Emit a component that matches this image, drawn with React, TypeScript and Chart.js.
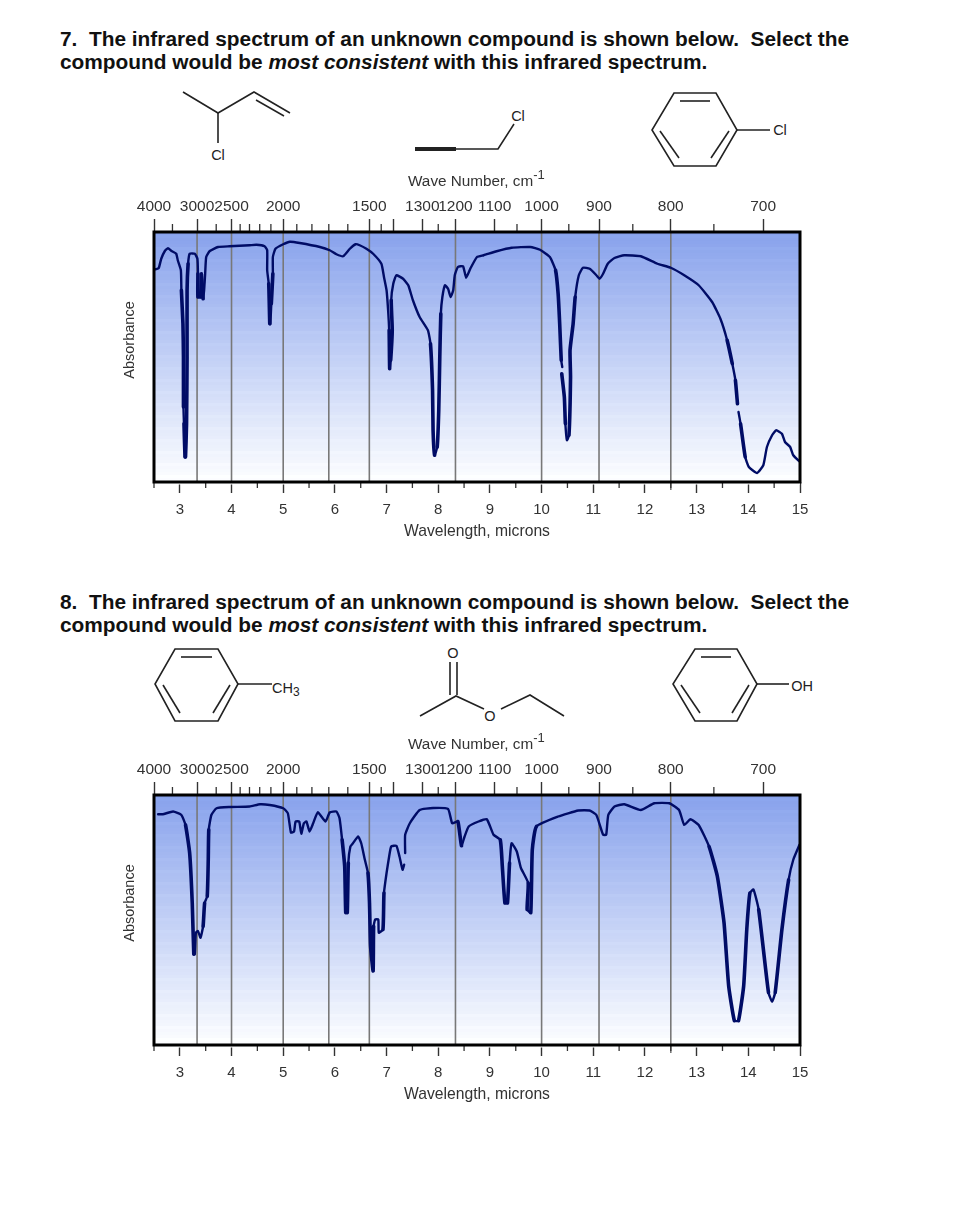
import React, { useEffect, useRef } from "react";
import { Chart, registerables } from "chart.js";

Chart.register(...registerables);

const FONT = '"Liberation Sans", Arial, sans-serif';

const wavelengthTicks = [3, 4, 5, 6, 7, 8, 9, 10, 11, 12, 13, 14, 15];
const wavelengthMinorTicks = [2.5, 3.5, 4.5, 5.5, 6.5, 7.5, 8.5, 9.5, 10.5, 11.5, 12.5, 13.5, 14.5];
const waveNumberTicks = [4000, 3000, 2500, 2000, 1500, 1400, 1300, 1200, 1100, 1000, 900, 800, 700];
const waveNumberHiddenLabels = [1400];
const waveNumberMinorTicks = [3500, 2700, 2400, 2300, 2200, 2100, 1900, 1800, 1700, 1600, 1450, 1250, 1050, 950, 850, 750];
const referenceWaveNumbers = [3000, 2500, 2000, 1700, 1500, 1200, 1000, 900, 800];

const wavelength7 = [
  2.53, 2.59, 2.64, 2.71, 2.77, 2.84, 2.93, 2.96, 3.02, 3.03, 3.06, 3.07, 3.07, 3.08, 3.1, 3.11, 3.13, 3.14, 3.14,
  3.16, 3.19, 3.29, 3.34, 3.35, 3.35, 3.4, 3.42, 3.45, 3.47, 3.49, 3.51, 3.58, 3.74, 3.96, 4.35, 4.48, 4.64, 4.69,
  4.69, 4.72, 4.74, 4.75, 4.77, 4.8, 4.8, 4.85, 5.0, 5.13, 5.32, 5.71, 5.9, 6.03, 6.16, 6.29, 6.4, 6.48, 6.61, 6.74,
  6.9, 6.95, 7.0, 7.03, 7.05, 7.06, 7.08, 7.11, 7.09, 7.13, 7.19, 7.32, 7.42, 7.51, 7.64, 7.8, 7.85, 7.89, 7.9, 7.93,
  7.98, 8.01, 8.03, 8.05, 8.08, 8.13, 8.19, 8.24, 8.29, 8.32, 8.38, 8.48, 8.54, 8.62, 8.75, 8.88, 9.13, 9.42, 9.78,
  9.97, 10.16, 10.27, 10.32, 10.35, 10.38, 10.4, 10.4, 10.39, 10.44, 10.46, 10.49, 10.53, 10.56, 10.55, 10.61, 10.65,
  10.72, 10.8, 10.93, 11.06, 11.12, 11.19, 11.28, 11.41, 11.6, 11.92, 12.24, 12.5, 12.76, 13.04, 13.3, 13.46, 13.59,
  13.69, 13.75, 13.79, 13.8, 13.81, 13.85, 13.94, 14.01, 14.17, 14.29, 14.36, 14.46, 14.54, 14.65, 14.71, 14.81,
  14.87, 15.0,
];
const absorbance7 = [
  14.9, 14.5, 10.7, 7.6, 6.5, 7.6, 8.7, 11.3, 15.3, 23.3, 36.7, 50, 70, 76.7, 90, 90, 76.7, 50, 23.3,
  12.7, 8.7, 8.7, 10.7, 16.7, 26, 26, 16.7, 26.7, 23.3, 16.7, 10, 7.6, 6, 5.7, 5.3, 5.1, 5.7, 7.3,
  15.3, 20.7, 36.7, 36.9, 28.7, 16.7, 10, 6.7, 4.9, 3.9, 4.4, 6, 7.3, 8.9, 9.7, 6.7, 4.9, 5.3, 6.7, 8.7,
  12.7, 18, 23.3, 31.3, 39.3, 54.7, 51.3, 39.3, 27.3, 20.7, 17.3, 18.7, 21.3, 27.3, 34, 39.3, 44.7, 63.3, 79.3, 89.3,
  86, 71.3, 50, 32.7, 26, 21.3, 22.7, 26, 23.3, 17.3, 14, 13.7, 18.3, 14.7, 10, 9.3, 7.7, 6.3, 6,
  7.1, 10, 15.3, 24.7, 36.7, 51.3, 54, null, 56.7, 66, 76.7, 83.3, 81.3, 58, 47.3, 36.7, 26,
  17.3, 14.3, 14.7, 17.3, 18.7, 16.7, 12.7, 10.4, 9.3, 9.7, 12.7, 14.3, 17.3, 21.3, 28, 34.7, 43.3,
  52.7, 59.3, 68.7, null, 72, 76.7, 90, 94, 96.4, 93.3, 86, 81.3, 79.3, 80.7, 84, 86,
  89.3, 92,
];

const wavelength8 = [
  2.58, 2.67, 2.87, 3.03, 3.11, 3.19, 3.24, 3.27, 3.29, 3.31, 3.35, 3.4, 3.45, 3.48, 3.53, 3.55, 3.56, 3.61, 3.71,
  3.96, 4.35, 4.55, 4.74, 5.0, 5.09, 5.15, 5.21, 5.24, 5.31, 5.35, 5.4, 5.45, 5.51, 5.58, 5.67, 5.82, 5.9, 6.03,
  6.09, 6.14, 6.19, 6.21, 6.24, 6.26, 6.3, 6.35, 6.45, 6.51, 6.58, 6.64, 6.67, 6.69, 6.74, 6.75, 6.78, 6.84, 6.85,
  6.93, 6.95, 7.0, 7.05, 7.09, 7.19, 7.25, 7.31, 7.34, 7.35, 7.36, 7.36, 7.45, 7.64, 7.9, 8.19, 8.27, 8.38, 8.45,
  8.51, 8.59, 8.78, 8.94, 9.07, 9.2, 9.24, 9.29, 9.34, 9.38, 9.42, 9.52, 9.6, 9.74, 9.72, 9.79, 9.82, 9.9, 10.32,
  10.71, 10.93, 11.06, 11.19, 11.25, 11.29, 11.41, 11.6, 11.92, 12.18, 12.47, 12.66, 12.76, 12.88, 13.04, 13.24,
  13.4, 13.53, 13.62, 13.73, 13.81, 13.91, 13.97, 14.03, 14.1, 14.2, 14.39, 14.46, 14.52, 14.65, 14.78, 14.87, 14.99,
];
const absorbance8 = [
  7.7, 7.7, 6.6, 8, 12, 23.2, 43.2, 63.7, 63.7, 55.1, 54.4, 57.1, 52.5, 43.2, 40.5, 25.9, 13.9, 8, 5.3,
  4.8, 4.6, 3.7, 4, 5.3, 7.3, 15, 14.6, 10.6, 10.6, 15.5, 11.3, 10.6, 14.6, 11.3, 6.9, 10.6, 7, 6.6,
  9.3, 17.9, 28.6, 47.1, 47.1, 27.2, 20.6, 19.3, 16.6, 19.3, 25.9, 31.2, 43.2, 60.4, 70.4, 52.5, 49.8, 49.8, 55.1,
  53.8, 39.2, 31.2, 24.6, 20.6, 20.3, 24.6, 29.9, 27.9, null, 23.2, 15.9, 11.3, 6, 5.2, 5.6, 11.3, 10.6, 20.3,
  16.6, 12.6, 10.6, 9.7, 15.9, 17.9, 28.6, 43.2, 43.2, 27.2, 19.3, 22.6, 29.2, 35.2, 45.8, 47.1, 21.9, 12.6, 8.6,
  6.2, 6.2, 8, 15.9, 15.9, 8, 4.6, 3.7, 6, 3.3, 3.3, 6, 12, 9.7, 12, 20.6,
  32.5, 51.1, 76.4, 90.3, 90.3, 76.4, 53.8, 39.2, 37.8, 45.8, 79, 82.7, 79, 53.8, 33.9, 25.9, 19.9,
];

const question7 = ["7.  The infrared spectrum of an unknown compound is shown below.  Select the", "compound would be ", "most consistent", " with this infrared spectrum."];
const question8 = ["8.  The infrared spectrum of an unknown compound is shown below.  Select the", "compound would be ", "most consistent", " with this infrared spectrum."];

const chartDecor = {
  id: "chartDecor",
  beforeDatasetsDraw(chart: any) {
    const { ctx, chartArea: a, scales } = chart;
    ctx.save();
    const band = 3;
    const rows = Math.ceil((a.bottom - a.top) / band);
    for (let i = 0; i < rows; i++) {
      const t = i / (rows - 1);
      const lift = i % 4 === 1 ? 3 : 0;
      const r = 136 + (253 - 136) * t + lift;
      const g = 162 + (254 - 162) * t + lift;
      const b = 236 + (255 - 236) * t + lift / 2;
      ctx.fillStyle = `rgb(${Math.min(255, r)},${Math.min(255, g)},${Math.min(255, b)})`;
      ctx.fillRect(a.left, a.top + i * band, a.right - a.left, band + 0.5);
    }
    ctx.strokeStyle = "#787878";
    ctx.lineWidth = 1.6;
    for (const wn of referenceWaveNumbers) {
      const x = scales.x.getPixelForValue(1e4 / wn);
      ctx.beginPath();
      ctx.moveTo(x, a.top);
      ctx.lineTo(x, wn === 800 ? a.bottom + 8 : a.bottom);
      ctx.stroke();
    }
    ctx.restore();
  },
  afterDatasetsDraw(chart: any) {
    const { ctx, chartArea: a, scales } = chart;
    ctx.save();
    ctx.strokeStyle = "#333";
    ctx.lineWidth = 1.3;
    for (const v of wavelengthMinorTicks) {
      const x = scales.x.getPixelForValue(v);
      ctx.beginPath();
      ctx.moveTo(x, a.bottom);
      ctx.lineTo(x, a.bottom + 6);
      ctx.stroke();
    }
    for (const wn of waveNumberMinorTicks) {
      const x = scales.x.getPixelForValue(1e4 / wn);
      ctx.beginPath();
      ctx.moveTo(x, a.top);
      ctx.lineTo(x, a.top - 8);
      ctx.stroke();
    }
    ctx.strokeStyle = "#000";
    ctx.lineWidth = 3;
    ctx.strokeRect(a.left, a.top, a.right - a.left, a.bottom - a.top);
    ctx.restore();
  },
};

function Spectrum({ top, wavelength, absorbance }: { top: number; wavelength: number[]; absorbance: (number | null)[] }) {
  const ref = useRef<HTMLCanvasElement | null>(null);
  useEffect(() => {
    const chart = new Chart(ref.current as HTMLCanvasElement, {
      type: "line",
      data: {
        datasets: [
          {
            data: wavelength.map((x, i) => ({ x, y: absorbance[i] })) as any,
            borderColor: "#000c66",
            borderWidth: 2.4,
            pointRadius: 0,
            tension: 0.15,
            borderJoinStyle: "round",
            borderCapStyle: "round",
            spanGaps: false,
            segment: {
              borderWidth: (c: any) => (Math.abs(c.p1.parsed.y - c.p0.parsed.y) > 9 ? 3.6 : 2.4),
            },
          },
        ],
      },
      plugins: [chartDecor],
      options: {
        animation: false,
        responsive: false,
        devicePixelRatio: 1,
        layout: { autoPadding: false, padding: { left: 154, right: 158, top: 0, bottom: 0 } },
        plugins: { legend: { display: false }, tooltip: { enabled: false }, title: { display: false } },
        scales: {
          y: { type: "linear", display: false, min: 0, max: 100, reverse: true },
          x: {
            type: "linear",
            position: "bottom",
            min: 2.5,
            max: 15,
            afterBuildTicks: (s: any) => {
              s.ticks = wavelengthTicks.map((value) => ({ value }));
            },
            afterFit: (s: any) => {
              s.height = 78;
            },
            border: { display: false },
            grid: { display: true, drawOnChartArea: false, drawTicks: true, tickLength: 11, tickWidth: 1.4, tickColor: "#333" },
            ticks: { autoSkip: false, maxRotation: 0, minRotation: 0, padding: 8, color: "#333", font: { family: FONT, size: 15 } },
            title: { display: true, text: "Wavelength, microns", color: "#333", font: { family: FONT, size: 15.7 }, padding: { top: 0, bottom: 19 } },
          },
          xTop: {
            type: "linear",
            position: "top",
            min: 2.5,
            max: 15,
            afterBuildTicks: (s: any) => {
              s.ticks = waveNumberTicks.map((wn) => ({ value: 1e4 / wn }));
            },
            afterFit: (s: any) => {
              s.height = 52;
            },
            border: { display: false },
            grid: { display: true, drawOnChartArea: false, drawTicks: true, tickLength: 13, tickWidth: 1.4, tickColor: "#333" },
            ticks: {
              autoSkip: false,
              maxRotation: 0,
              minRotation: 0,
              padding: 3,
              color: "#333",
              font: { family: FONT, size: 15.5 },
              callback: (v: any) => {
                const wn = Math.round(Number(v) === 2.5 ? 4000 : 1e4 / Number(v));
                return waveNumberHiddenLabels.includes(wn) ? "" : String(wn);
              },
            },
          },
        },
      },
    } as any);
    return () => chart.destroy();
  }, [wavelength, absorbance]);
  return <canvas ref={ref} width={958} height={380} style={{ position: "absolute", left: 0, top, display: "block" }} />;
}

function Question({ top, lines }: { top: number; lines: string[] }) {
  return (
    <div style={{ position: "absolute", left: 60, top, font: `bold 20.85px/23px ${FONT}`, color: "#111", whiteSpace: "pre" }}>
      <div>{lines[0]}</div>
      <div>
        {lines[1]}
        <i>{lines[2]}</i>
        {lines[3]}
      </div>
    </div>
  );
}

function AxisLabels({ top }: { top: number }) {
  return (
    <>
      <div style={{ position: "absolute", left: 408, top: top - 181 + 172, font: `15.3px/18px ${FONT}`, color: "#333", whiteSpace: "pre" }}>
        Wave Number, cm<sup style={{ fontSize: 13, lineHeight: 0, position: "relative", top: -1 }}>-1</sup>
      </div>
      <div
        style={{
          position: "absolute",
          left: 129,
          top: top - 181 + 340,
          font: `14.5px/16px ${FONT}`,
          color: "#333",
          whiteSpace: "pre",
          transform: "translate(-50%,-50%) rotate(-90deg)",
        }}
      >
        Absorbance
      </div>
    </>
  );
}

function Ring({ xs, ys }: { xs: number[]; ys: number[] }) {
  const pts = [
    [xs[1], ys[0]],
    [xs[2], ys[0]],
    [xs[3], ys[1]],
    [xs[2], ys[2]],
    [xs[1], ys[2]],
    [xs[0], ys[1]],
  ];
  return (
    <>
      <polygon points={pts.map((p) => p.join(",")).join(" ")} />
      <line x1={xs[1] + 6} y1={ys[0] + 8} x2={xs[2] - 6} y2={ys[0] + 8} />
      <line x1={xs[0] + 8} y1={ys[1] + 1} x2={xs[1] + 5} y2={ys[2] - 8} />
      <line x1={xs[3] - 8} y1={ys[1] + 1} x2={xs[2] - 5} y2={ys[2] - 8} />
    </>
  );
}

function Molecules() {
  const label = { fontFamily: FONT, fontSize: 14.5, fill: "#222", stroke: "none" } as const;
  return (
    <svg width={958} height={1208} style={{ position: "absolute", left: 0, top: 0 }} fill="none" stroke="#222" strokeWidth={1.6}>
      <polyline points="183,92 218,113 254,92 290,113" />
      <line x1={256} y1={100} x2={284} y2={116} />
      <line x1={218} y1={113} x2={218} y2={143} />
      <text x={218} y={160} textAnchor="middle" {...label}>Cl</text>

      <line x1={415} y1={149} x2={456} y2={149} strokeWidth={4} />
      <polyline points="456,149 498,149 514,124" />
      <text x={518} y={121} textAnchor="middle" {...label}>Cl</text>

      <Ring xs={[652, 674, 716, 737]} ys={[93, 130, 166]} />
      <line x1={737} y1={130} x2={770} y2={130} />
      <text x={780} y={135} textAnchor="middle" {...label}>Cl</text>

      <Ring xs={[155, 175, 218, 238]} ys={[649, 684, 721]} />
      <line x1={238} y1={684} x2={272} y2={684} />
      <text x={272} y={693} {...label}>CH<tspan dy={3} fontSize={12}>3</tspan></text>

      <text x={453} y={658} textAnchor="middle" {...label}>O</text>
      <line x1={450} y1={662} x2={450} y2={695} />
      <line x1={457} y1={662} x2={457} y2={695} />
      <polyline points="420,716 456,696 484,709" />
      <text x={490} y={721} textAnchor="middle" {...label}>O</text>
      <polyline points="501,709 530,695 564,716" />

      <Ring xs={[673, 695, 737, 757]} ys={[649, 684, 721]} />
      <line x1={757} y1={684} x2={789} y2={684} />
      <text x={802} y={691} textAnchor="middle" {...label}>OH</text>
    </svg>
  );
}

export default function App() {
  return (
    <div style={{ position: "absolute", left: 0, top: 0, width: 958, height: 1208, overflow: "hidden", background: "#fff" }}>
      <Question top={27} lines={question7} />
      <Question top={590} lines={question8} />
      <Molecules />
      <Spectrum top={180} wavelength={wavelength7} absorbance={absorbance7} />
      <Spectrum top={743} wavelength={wavelength8} absorbance={absorbance8} />
      <AxisLabels top={181} />
      <AxisLabels top={744} />
    </div>
  );
}
